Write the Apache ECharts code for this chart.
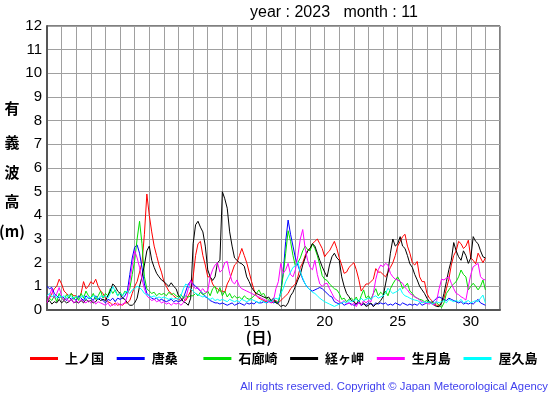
<!DOCTYPE html>
<html>
<head>
<meta charset="utf-8">
<script src="https://cdn.jsdelivr.net/npm/echarts@6/dist/echarts.min.js"></script>
<style>
html,body{margin:0;padding:0;background:#fff;}
#main{width:555px;height:395px;}
</style>
</head>
<body>
<div id="main"></div>
<script>
// ---- data (4-hourly samples, 6 per day, starting day 1 00:00) ----
const seriesNames = ['上ノ国', '唐桑', '石廊崎', '経ヶ岬', '生月島', '屋久島'];
const seriesColors = ['#ff0000', '#0000ff', '#00e000', '#000000', '#ff00ff', '#00ffff'];
const xTickLabels = [5, 10, 15, 20, 25, 30];
const yTickLabels = [0,1,2,3,4,5,6,7,8,9,10,11,12];

const kaminokuni = [
0.3,0.5,0.7,0.9,1.0,1.3,
1.1,0.8,0.7,0.6,0.7,0.6,
0.6,0.5,0.7,1.2,0.9,1.0,
1.2,1.1,1.3,1.0,0.8,0.7,
0.5,0.35,0.3,0.2,0.3,0.2,
0.25,0.2,0.3,0.3,0.4,0.7,
1.0,1.2,1.6,2.0,3.2,4.9,
4.0,3.3,2.7,2.3,1.9,1.6,
1.2,1.0,0.8,0.7,0.6,0.5,
0.45,0.4,0.5,0.4,0.6,0.8,
1.4,2.3,2.8,2.9,2.3,1.9,
1.4,1.4,1.1,0.95,0.9,0.8,
0.8,0.75,1.1,1.3,1.6,1.9,
2.0,2.3,2.6,2.3,2.0,1.6,
1.2,0.85,0.6,0.5,0.45,0.4,
0.35,0.4,0.3,0.35,0.4,0.3,
0.4,0.5,0.6,0.7,0.9,1.0,
1.1,1.4,1.8,2.0,2.3,2.5,
2.6,2.8,2.9,3.0,2.8,2.6,
2.25,2.4,2.5,2.7,2.9,2.6,
2.2,1.9,1.55,1.6,1.8,1.9,
2.0,1.7,1.3,0.8,0.95,1.1,
1.1,1.2,1.3,1.75,1.6,1.6,
1.5,1.4,1.6,1.8,2.0,2.3,
2.7,2.9,3.1,3.2,2.7,2.4,
2.0,1.9,2.05,1.4,1.2,1.2,
0.7,0.5,0.4,0.25,0.2,0.2,
0.3,0.5,0.9,1.3,1.9,2.3,
2.5,2.9,2.8,2.6,2.7,2.95,
2.2,2.1,1.95,2.4,2.2,2.0,
2.2];

const karakuwa = [
1.0,0.9,0.95,0.7,0.6,0.5,
0.6,0.5,0.4,0.55,0.45,0.5,
0.4,0.6,0.5,0.4,0.6,0.5,
0.5,0.4,0.6,0.45,0.5,0.4,
0.3,0.45,0.4,0.5,0.35,0.5,
0.45,0.5,0.6,0.8,1.5,2.2,
2.65,2.75,2.4,1.8,1.1,0.7,
0.6,0.5,0.45,0.5,0.4,0.45,
0.4,0.35,0.4,0.45,0.35,0.4,
0.35,0.4,0.5,0.8,1.1,1.2,
1.1,1.0,0.9,0.8,0.7,0.55,
0.5,0.4,0.35,0.3,0.3,0.25,
0.3,0.25,0.2,0.25,0.3,0.2,
0.25,0.3,0.25,0.2,0.3,0.25,
0.3,0.25,0.35,0.3,0.3,0.35,
0.3,0.35,0.4,0.3,0.35,0.3,
0.8,1.6,2.9,3.8,3.2,2.7,
2.2,1.9,1.6,1.3,1.1,0.95,
0.85,0.8,0.85,0.9,0.95,0.9,
0.8,0.7,0.6,0.55,0.35,0.3,
0.25,0.3,0.2,0.25,0.3,0.25,
0.2,0.25,0.3,0.2,0.25,0.2,
0.3,0.25,0.2,0.3,0.25,0.3,
0.25,0.3,0.2,0.25,0.2,0.3,
0.25,0.2,0.3,0.25,0.2,0.25,
0.2,0.25,0.2,0.3,0.2,0.25,
0.3,0.35,0.3,0.4,0.5,0.55,
0.5,0.45,0.4,0.5,0.45,0.4,
0.35,0.3,0.35,0.25,0.3,0.25,
0.3,0.25,0.35,0.45,0.3,0.25,
0.2];

const irozaki = [
0.3,0.5,0.4,0.6,0.35,0.7,
0.5,0.4,0.65,0.5,0.7,0.45,
0.6,0.4,0.7,0.5,0.8,0.6,
0.5,0.7,0.45,0.6,0.8,0.5,
0.7,0.6,0.9,0.7,0.85,0.6,
0.75,0.6,0.8,0.7,0.9,1.5,
2.1,3.0,3.75,2.8,1.4,0.9,
0.8,0.7,0.75,0.6,0.7,0.65,
0.7,0.6,0.75,0.65,0.7,0.6,
0.55,0.65,0.5,0.6,0.55,0.6,
0.6,0.7,0.6,0.75,0.65,0.7,
0.8,0.6,0.9,1.0,0.7,0.95,
0.6,0.8,0.55,0.7,0.5,0.6,
0.5,0.55,0.45,0.6,0.5,0.45,
0.5,0.6,0.7,0.85,0.65,0.7,
0.5,0.45,0.35,0.4,0.3,0.35,
0.7,1.5,2.4,3.35,2.9,2.3,
1.85,2.0,2.2,2.5,2.7,2.55,
2.5,2.8,2.6,2.3,1.9,1.45,
1.3,1.25,1.1,1.0,0.9,0.85,
0.7,0.45,0.5,0.35,0.45,0.5,
0.4,0.55,0.3,0.6,0.85,0.5,
0.6,0.45,0.7,0.9,0.6,0.75,
0.65,0.8,0.6,0.9,1.1,1.27,
1.4,1.2,0.9,1.0,1.13,0.8,
0.7,0.56,0.5,0.45,0.42,0.35,
0.4,0.3,0.35,0.25,0.3,0.2,
0.1,0.3,0.7,0.85,1.0,1.1,
1.2,1.4,1.69,1.5,1.4,0.85,
1.0,1.13,1.0,0.85,1.0,1.27,
0.85];

const kyogamisaki = [
0.3,0.4,0.25,0.35,0.3,0.45,
0.3,0.4,0.3,0.35,0.45,0.3,
0.35,0.3,0.4,0.3,0.45,0.35,
0.4,0.3,0.35,0.5,0.4,0.45,
0.4,0.6,0.8,1.1,1.0,0.8,
0.7,0.5,0.45,0.3,0.2,0.2,
0.3,0.5,1.0,1.4,1.9,2.5,
2.7,2.1,1.8,1.55,1.4,1.27,
1.2,1.1,1.0,1.15,1.0,0.9,
0.6,0.5,0.35,0.3,0.2,0.5,
2.8,3.6,3.75,3.5,3.3,2.7,
1.7,1.4,1.25,1.4,2.0,2.1,
5.0,4.7,4.3,3.3,2.7,2.2,
2.1,2.0,1.95,1.85,1.4,1.2,
0.95,0.8,0.7,0.65,0.6,0.55,
0.5,0.55,0.4,0.5,0.3,0.25,
0.15,0.2,0.15,0.3,0.6,0.75,
1.0,1.27,1.5,1.9,2.2,2.5,
2.6,2.8,2.7,2.4,2.1,1.83,
1.6,1.4,1.9,2.25,2.4,2.2,
2.1,1.4,1.0,0.7,0.56,0.4,
0.35,0.25,0.4,0.2,0.3,0.15,
0.2,0.3,0.14,0.25,0.28,0.4,
0.56,1.1,1.6,2.4,3.0,2.7,
2.8,3.1,2.7,2.6,2.3,1.95,
1.8,1.5,1.27,1.0,0.85,0.7,
0.5,0.35,0.28,0.2,0.15,0.14,
0.3,0.7,1.2,1.7,2.1,2.85,
2.5,2.25,2.1,2.5,2.3,1.97,
2.2,3.1,2.9,2.8,2.5,2.25,
2.2];

const ikitsukishima = [
0.3,0.6,0.9,0.5,0.7,0.95,
0.6,0.4,0.5,0.35,0.45,0.3,
0.4,0.3,0.45,0.35,0.3,0.4,
0.3,0.4,0.25,0.35,0.3,0.25,
0.2,0.3,0.15,0.25,0.2,0.3,
0.2,0.25,0.3,0.6,1.2,1.9,
2.5,2.2,1.8,1.3,0.9,0.6,
0.5,0.4,0.45,0.35,0.4,0.3,
0.35,0.25,0.3,0.2,0.3,0.25,
0.3,0.2,0.3,0.5,0.9,1.27,
1.0,0.9,0.95,0.8,0.9,0.75,
0.8,1.4,1.7,1.9,2.0,1.6,
1.7,2.0,2.05,1.55,1.2,1.1,
1.27,1.0,0.9,0.85,0.8,0.75,
0.7,0.65,0.6,0.55,0.5,0.45,
0.4,0.35,0.3,0.4,0.9,1.2,
1.97,1.55,1.7,1.97,1.5,1.4,
1.7,2.3,3.0,3.4,2.6,2.1,
1.8,1.7,2.1,1.5,1.1,1.0,
1.1,1.13,0.9,0.7,0.5,0.42,
0.35,0.3,0.4,0.25,0.3,0.2,
0.3,0.14,0.35,0.2,0.4,0.3,
0.4,0.35,0.7,1.3,1.7,1.9,
1.83,1.97,1.9,1.55,1.4,1.3,
1.27,1.2,1.13,0.95,0.85,0.7,
0.63,0.55,0.5,0.42,0.35,0.3,
0.28,0.25,0.3,0.2,0.4,0.9,
1.3,1.27,1.35,1.41,1.13,0.9,
0.7,0.65,0.56,0.5,0.42,0.99,
1.5,1.83,1.9,1.97,1.41,1.3,
1.27];

const yakushima = [
0.6,0.7,0.55,0.65,0.5,0.6,
0.55,0.6,0.5,0.65,0.55,0.5,
0.6,0.5,0.55,0.6,0.45,0.55,
0.5,0.6,0.55,0.45,0.6,0.55,
0.6,0.5,0.7,0.99,0.8,0.6,
0.7,0.6,0.75,0.8,0.7,0.85,
0.9,1.0,0.95,0.85,0.7,0.65,
0.6,0.55,0.6,0.5,0.55,0.5,
0.55,0.5,0.45,0.5,0.45,0.5,
0.45,0.6,0.9,1.1,1.0,0.9,
0.8,0.7,0.65,0.6,0.55,0.6,
0.5,0.45,0.5,0.4,0.45,0.4,
0.45,0.4,0.35,0.45,0.4,0.35,
0.4,0.35,0.45,0.4,0.35,0.4,
0.45,0.4,0.35,0.3,0.4,0.35,
0.3,0.4,0.35,0.45,0.5,0.45,
0.7,0.9,1.2,1.4,1.6,1.8,
1.85,2.04,1.6,1.35,1.1,0.95,
0.85,0.75,0.7,0.6,0.5,0.42,
0.35,0.3,0.25,0.2,0.15,0.2,
0.25,0.3,0.35,0.3,0.4,0.35,
0.4,0.45,0.35,0.5,0.4,0.45,
0.5,0.45,0.55,0.6,0.5,0.55,
0.6,0.7,0.92,0.8,0.7,0.75,
0.8,0.92,0.7,0.6,0.56,0.5,
0.45,0.42,0.4,0.35,0.3,0.35,
0.3,0.35,0.25,0.3,0.35,0.3,
0.35,0.4,0.3,0.45,0.4,0.35,
0.4,0.35,0.45,0.3,0.35,0.4,
0.3,0.35,0.4,0.35,0.5,0.63,
0.3];

const seriesValues = [kaminokuni, karakuwa, irozaki, kyogamisaki, ikitsukishima, yakushima];
const samplesPerDay = 6;
const firstDay = 1;

// ---- chart ----
const chart = echarts.init(document.getElementById('main'), null, {renderer: 'canvas'});
const latin = '"Liberation Sans", Arial, Helvetica, sans-serif';
const cjk = '"Noto Sans CJK JP", "Noto Sans CJK SC", sans-serif';

const series = seriesValues.map((vals, k) => ({
  name: seriesNames[k],
  type: 'line',
  showSymbol: false,
  symbol: 'none',
  animation: false,
  lineStyle: {width: 1, color: seriesColors[k]},
  itemStyle: {color: seriesColors[k]},
  data: vals.map((v, i) => [firstDay + i / samplesPerDay, v])
}));

const legends = seriesNames.map((n, i) => ({
  data: [n],
  left: 30 + i * 86.7,
  top: 352,
  padding: 0,
  icon: 'rect',
  itemWidth: 28,
  itemHeight: 3,
  selectedMode: false,
  textStyle: {fontFamily: cjk, fontSize: 13, fontWeight: 'bold', color: '#000', padding: [0,0,0,2]}
}));

const yTitle = ['有', '義', '波', '高', '(m)'];
const yTitleY = [108, 142, 172, 201, 231];

const graphics = [
  {type: 'text', x: 250, y: 13, style: {text: 'year : 2023   month : 11', font: '16px ' + latin, fill: '#000', align: 'left', verticalAlign: 'middle'}},
  {type: 'text', x: 259, y: 337, style: {text: '(日)', font: 'bold 15px ' + cjk, fill: '#000', align: 'center', verticalAlign: 'middle'}},
  {type: 'text', x: 548, y: 387, style: {text: 'All rights reserved. Copyright © Japan Meteorological Agency', font: '11.3px ' + latin, fill: '#4040ee', align: 'right', verticalAlign: 'middle'}}
].concat(yTitle.map((t, i) => ({
  type: 'text', x: 12, y: yTitleY[i],
  style: {text: t, font: 'bold 15px ' + cjk, fill: '#000', align: 'center', verticalAlign: 'middle'}
})));

chart.setOption({
  animation: false,
  backgroundColor: '#fff',
  grid: {left: 47, right: 55, top: 26, bottom: 85, show: true, borderColor: '#000', borderWidth: 1, backgroundColor: 'transparent'},
  legend: legends,
  xAxis: {
    type: 'value', min: 1, max: 32, interval: 1,
    axisLine: {show: true, onZero: false, lineStyle: {color: '#555', width: 2}},
    axisTick: {show: false},
    splitLine: {show: true, lineStyle: {color: '#a0a0a0', width: 1}},
    axisLabel: {
      fontFamily: latin, fontSize: 15, color: '#000', margin: 4,
      formatter: v => xTickLabels.includes(v) ? String(v) : ''
    }
  },
  yAxis: {
    type: 'value', min: 0, max: 12, interval: 1,
    axisLine: {show: true, lineStyle: {color: '#555', width: 2}},
    axisTick: {show: false},
    splitLine: {show: true, lineStyle: {color: '#a0a0a0', width: 1}},
    axisLabel: {
      fontFamily: latin, fontSize: 15, color: '#000', margin: 5,
      formatter: v => yTickLabels.includes(v) ? String(v) : ''
    }
  },
  graphic: graphics,
  series: series
});
</script>
</body>
</html>
